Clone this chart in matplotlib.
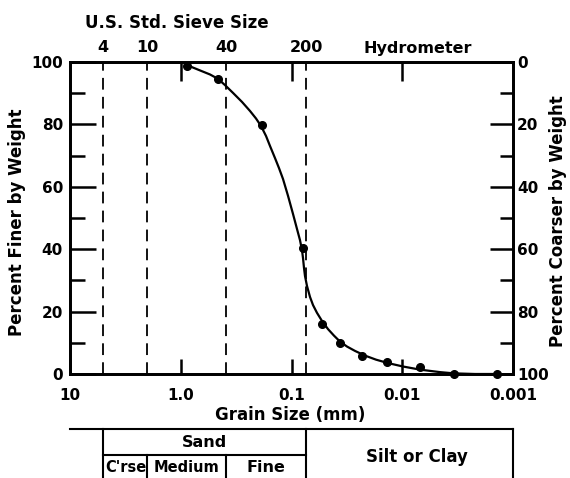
import numpy as np
import matplotlib
matplotlib.use("Agg")
import matplotlib.pyplot as plt
from matplotlib.ticker import FixedLocator, NullFormatter, NullLocator

# grain size distribution (mm, percent finer)
sample_size   = [0.879, 0.461, 0.185, 0.0787, 0.0531, 0.0365, 0.0231, 0.01374, 0.00692, 0.00341, 0.00139]
sample_finer  = [98.7, 94.6, 79.8, 40.4, 16.0, 9.9, 5.8, 3.8, 2.2, 0.0, 0.0]

# hand-faired gradation curve
curve_size  = [0.8781, 0.6701, 0.5441, 0.4609, 0.3986, 0.3375, 0.2798, 0.2369, 0.2092,
               0.1885, 0.1699, 0.1564, 0.1409, 0.1297, 0.1193, 0.1075, 0.09693, 0.08922,
               0.08381, 0.08040, 0.07874, 0.07712, 0.07553, 0.07245, 0.06807, 0.06394,
               0.05886, 0.05304, 0.04684, 0.04135, 0.03650, 0.03154, 0.02671, 0.02170,
               0.01726, 0.01345, 0.00984, 0.00691, 0.00456, 0.00341, 0.00220, 0.00139]
curve_finer = [99.0, 97.3, 96.0, 94.6, 92.6, 90.1, 87.2, 84.3, 81.9,
               79.5, 76.3, 73.1, 69.2, 66.0, 62.5, 57.1, 51.3, 46.5,
               42.9, 39.7, 37.2, 34.0, 31.4, 28.2, 24.7, 22.1,
               19.6, 17.0, 14.4, 12.3, 10.4, 8.8, 7.4, 5.9,
               4.6, 3.5, 2.4, 1.4, 0.6, 0.2, 0.0, 0.0]

# sieve numbers and their openings (mm)
sieve_labels = ["4", "10", "40", "200"]
sieve_mm     = [5.0, 2.0, 0.39, 0.074]
hydro_mm     = 0.0073

grain_ticks  = [10, 1, 0.1, 0.01, 0.001]
grain_labels = ["10", "1.0", "0.1", "0.01", "0.001"]
decade_ticks = [1, 0.1, 0.01]

finer_major  = [0, 20, 40, 60, 80, 100]
finer_minor  = [10, 30, 50, 70, 90]

plt.rcParams["font.family"] = "DejaVu Sans"
plt.rcParams["font.weight"] = "bold"
plt.rcParams["font.size"] = 11

LABEL_FS = 12
SMALL_FS = 11.5

W, H = 570, 478
fig = plt.figure(figsize=(W / 100, H / 100), dpi=100)
L, B, PW, PH = 70 / W, 104 / H, 443 / W, 312 / H
ax = fig.add_axes([L, B, PW, PH])

SPINE = 1.8
XLIM = (10, 0.001)

ax.set_xscale("log")
ax.set_xlim(*XLIM)
ax.set_ylim(0, 100)
for s in ax.spines.values():
    s.set_linewidth(SPINE)

ax.xaxis.set_major_locator(FixedLocator(grain_ticks))
ax.xaxis.set_minor_locator(NullLocator())
ax.set_xticklabels(grain_labels)
ax.tick_params(axis="x", which="major", direction="in", length=11, width=SPINE, pad=10)

ax.yaxis.set_major_locator(FixedLocator(finer_major))
ax.yaxis.set_minor_locator(FixedLocator(finer_minor))
ax.tick_params(axis="y", which="major", direction="in", length=19, width=SPINE, pad=5)
ax.tick_params(axis="y", which="minor", direction="in", length=11, width=SPINE)

# sieve boundaries
for d in sieve_mm:
    ax.axvline(d, color="black", lw=1.3, linestyle=(0, (6.5, 4)))

ax.plot(curve_size, curve_finer, color="black", lw=1.6, clip_on=False, zorder=3,
        solid_joinstyle="round")
ax.plot(sample_size, sample_finer, "o", color="black", ms=5.5, clip_on=False, zorder=4)

# top axis: sieve numbers
ax_top = ax.twiny()
ax_top.set_xscale("log")
ax_top.set_xlim(*XLIM)
ax_top.xaxis.set_major_locator(FixedLocator(sieve_mm))
ax_top.set_xticklabels(sieve_labels, fontsize=SMALL_FS)
ax_top.xaxis.set_minor_locator(FixedLocator(decade_ticks))
ax_top.xaxis.set_minor_formatter(NullFormatter())
ax_top.tick_params(axis="x", which="major", length=0, pad=5)
ax_top.tick_params(axis="x", which="minor", direction="in", length=14, width=SPINE)
for s in ax_top.spines.values():
    s.set_linewidth(SPINE)
ax_top.text(hydro_mm, 1 + 14 / 312, "Hydrometer", transform=ax_top.get_xaxis_transform(),
            ha="center", va="center", fontsize=SMALL_FS)

# right axis: percent coarser
ax_r = ax.twinx()
ax_r.set_ylim(100, 0)
ax_r.yaxis.set_major_locator(FixedLocator(finer_major))
ax_r.yaxis.set_minor_locator(FixedLocator(finer_minor))
ax_r.tick_params(axis="y", which="major", direction="in", length=16.5, width=SPINE, pad=3)
ax_r.tick_params(axis="y", which="minor", direction="in", length=9.5, width=SPINE)
for s in ax_r.spines.values():
    s.set_linewidth(SPINE)

fig.text(177 / W, 1 - 23 / H, "U.S. Std. Sieve Size", ha="center", va="center", fontsize=LABEL_FS)
fig.text(290 / W, 1 - 415 / H, "Grain Size (mm)", ha="center", va="center", fontsize=LABEL_FS)
fig.text(17 / W, 1 - 222 / H, "Percent Finer by Weight", rotation=90,
         ha="center", va="center", fontsize=LABEL_FS)
fig.text(558 / W, 1 - 221 / H, "Percent Coarser by Weight", rotation=90,
         ha="center", va="center", fontsize=LABEL_FS)

# soil classification strip
ax_t = fig.add_axes([L, 0, PW, 49 / H])
ax_t.set_xscale("log")
ax_t.set_xlim(*XLIM)
ax_t.set_ylim(0, 1)
ax_t.axis("off")
TL = 1.5
mid = 0.47
ax_t.plot([XLIM[0], XLIM[1]], [1, 1], color="black", lw=TL, clip_on=False)
for d in [sieve_mm[0], sieve_mm[3], XLIM[1]]:
    ax_t.plot([d, d], [0, 1], color="black", lw=TL, clip_on=False)
ax_t.plot([sieve_mm[0], sieve_mm[3]], [mid, mid], color="black", lw=TL, clip_on=False)
for d in sieve_mm[1:3]:
    ax_t.plot([d, d], [0, mid], color="black", lw=TL, clip_on=False)


def gmid(a, b):
    return np.sqrt(a * b)


ax_t.text(gmid(sieve_mm[0], sieve_mm[3]), 0.72, "Sand", ha="center", va="center", fontsize=SMALL_FS)
ax_t.text(gmid(sieve_mm[0], sieve_mm[1]), 0.22, "C'rse", ha="center", va="center", fontsize=10.5)
ax_t.text(gmid(sieve_mm[1], sieve_mm[2]), 0.22, "Medium", ha="center", va="center", fontsize=10.5)
ax_t.text(gmid(sieve_mm[2], sieve_mm[3]), 0.22, "Fine", ha="center", va="center", fontsize=SMALL_FS)
ax_t.text(hydro_mm, 0.43, "Silt or Clay", ha="center", va="center", fontsize=LABEL_FS)

fig.savefig("out.png", dpi=100)
